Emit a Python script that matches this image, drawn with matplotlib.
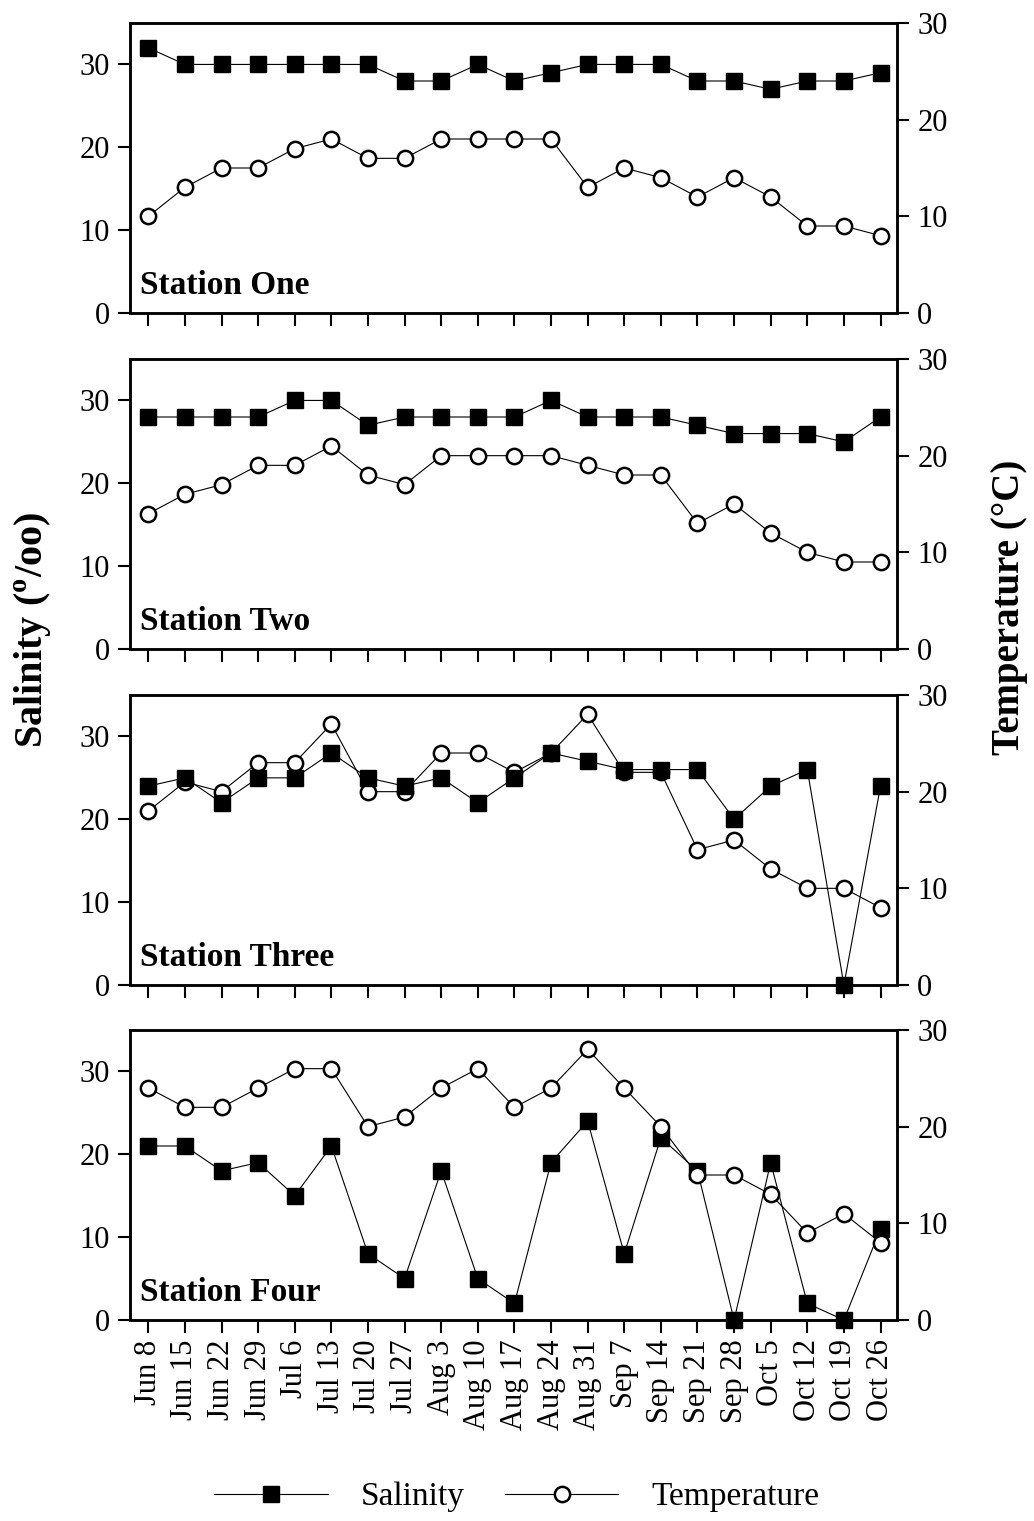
import matplotlib
matplotlib.use("Agg")
import matplotlib.pyplot as plt
import numpy as np

plt.rcParams['font.family'] = ['Liberation Serif', 'DejaVu Serif']
plt.rcParams['mathtext.fontset'] = 'custom'
plt.rcParams['mathtext.rm'] = 'Liberation Serif'
plt.rcParams['mathtext.bf'] = 'Liberation Serif:bold'

dates = ['Jun 8', 'Jun 15', 'Jun 22', 'Jun 29', 'Jul 6', 'Jul 13', 'Jul 20',
         'Jul 27', 'Aug 3', 'Aug 10', 'Aug 17', 'Aug 24', 'Aug 31', 'Sep 7',
         'Sep 14', 'Sep 21', 'Sep 28', 'Oct 5', 'Oct 12', 'Oct 19', 'Oct 26']

stations = ['Station One', 'Station Two', 'Station Three', 'Station Four']

sal_one = [32, 30, 30, 30, 30, 30, 30, 28, 28, 30, 28, 29, 30, 30, 30, 28, 28, 27, 28, 28, 29]
temp_one = [10, 13, 15, 15, 17, 18, 16, 16, 18, 18, 18, 18, 13, 15, 14, 12, 14, 12, 9, 9, 8]
sal_two = [28, 28, 28, 28, 30, 30, 27, 28, 28, 28, 28, 30, 28, 28, 28, 27, 26, 26, 26, 25, 28]
temp_two = [14, 16, 17, 19, 19, 21, 18, 17, 20, 20, 20, 20, 19, 18, 18, 13, 15, 12, 10, 9, 9]
sal_three = [24, 25, 22, 25, 25, 28, 25, 24, 25, 22, 25, 28, 27, 26, 26, 26, 20, 24, 26, 0, 24]
temp_three = [18, 21, 20, 23, 23, 27, 20, 20, 24, 24, 22, 24, 28, 22, 22, 14, 15, 12, 10, 10, 8]
sal_four = [21, 21, 18, 19, 15, 21, 8, 5, 18, 5, 2, 19, 24, 8, 22, 18, 0, 19, 2, 0, 11]
temp_four = [24, 22, 22, 24, 26, 26, 20, 21, 24, 26, 22, 24, 28, 24, 20, 15, 15, 13, 9, 11, 8]

salinity = [sal_one, sal_two, sal_three, sal_four]
temperature = [temp_one, temp_two, temp_three, temp_four]

W, H = 1034, 1521
fig = plt.figure(figsize=(W / 100, H / 100), dpi=100)

bottoms_px = [313, 649, 985, 1320]
left_px, width_px, height_px = 130, 767, 290
x = np.arange(len(dates))

TICK_FS = 22
spine_lw = 1.8

sal_kw = dict(color='black', lw=0.8, marker='s', ms=12, mfc='black', mec='black',
              clip_on=False)
tmp_kw = dict(color='black', lw=0.8, marker='o', ms=11, mfc='white', mec='black',
              mew=1.8, clip_on=False)

legend_handles = None
for i in range(4):
    ax = fig.add_axes([left_px / W, 1 - bottoms_px[i] / H, width_px / W, height_px / H])
    ax2 = ax.twinx()
    l1, = ax.plot(x, salinity[i], **sal_kw)
    l2, = ax2.plot(x, temperature[i], **tmp_kw)
    if i == 2:
        ax.set_zorder(ax2.get_zorder() + 1)
        ax.patch.set_visible(False)
    ax.set_xlim(-0.5, 20.45)
    ax.set_ylim(0, 35)
    ax2.set_ylim(0, 30)
    ax.set_yticks([0, 10, 20, 30])
    ax2.set_yticks([0, 10, 20, 30])
    ax.set_xticks(x)
    if i == 3:
        ax.set_xticklabels(dates, rotation=90, ha='center', va='top')
    else:
        ax.set_xticklabels([])
    for a in (ax, ax2):
        for s in a.spines.values():
            s.set_linewidth(spine_lw)
        a.tick_params(direction='out', length=8.5, width=1.5, labelsize=TICK_FS, pad=6)
    ax.tick_params(axis='x', length=9, pad=5)
    ax.text(0.013, 0.065, stations[i], transform=ax.transAxes, fontsize=24,
            fontweight='bold', ha='left', va='baseline', zorder=10)
    if i == 3:
        legend_handles = (l1, l2)

fig.text(33 / W, 1 - 630 / H, r'Salinity ($^{\mathbf{o}}$/oo)', rotation=90,
         ha='center', va='center', fontsize=29, fontweight='bold')
fig.text(1010 / W, 1 - 607 / H, 'Temperature (°C)', rotation=90,
         ha='center', va='center', fontsize=28, fontweight='bold')

fig.legend(legend_handles, ['Salinity', 'Temperature'], loc='center',
           bbox_to_anchor=(517 / W, 1 - 1497 / H), ncol=2, frameon=False,
           handlelength=3.4, handletextpad=1.0, columnspacing=1.2, fontsize=24)

fig.savefig('out.png', dpi=100)
